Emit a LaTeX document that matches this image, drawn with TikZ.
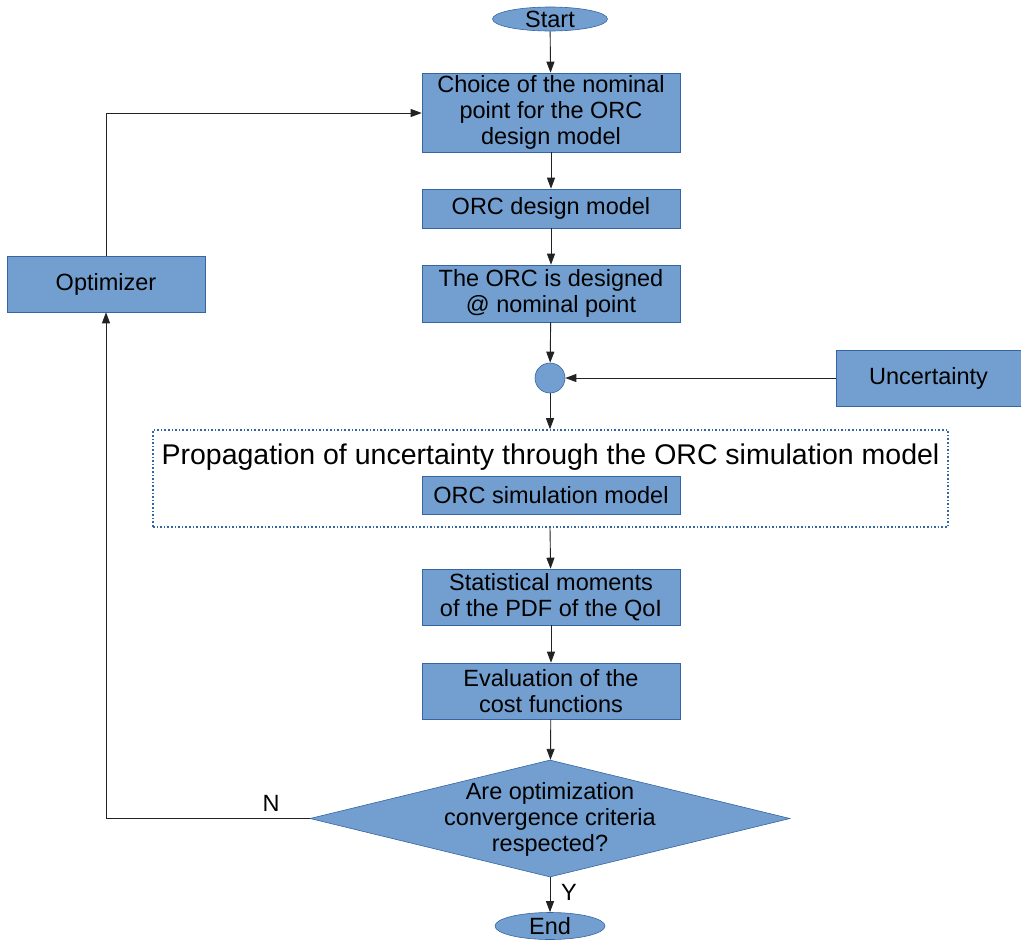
\documentclass[tikz,border=0pt]{standalone}
\usepackage{fontspec}
\setmainfont{Liberation Sans}
\usetikzlibrary{arrows.meta,shapes.geometric}
\definecolor{boxfill}{HTML}{729FCF}
\definecolor{boxline}{HTML}{3465A4}
\definecolor{linecol}{HTML}{222222}
\begin{document}
\begin{tikzpicture}[x=1pt,y=-1pt,
  base/.style={fill=boxfill,draw=boxline,line width=0.6pt,inner sep=0pt,align=center,
    font=\fontsize{23.5}{26}\selectfont},
  proc/.style={base,rectangle,minimum width=258pt},
  term/.style={base,ellipse},
  junc/.style={base,circle,minimum size=30pt},
  dec/.style={base,diamond,aspect=4.1,minimum width=480pt,minimum height=117pt},
  conn/.style={draw=linecol,line width=0.9pt,-{Triangle[length=11pt,width=8pt]}},
  lbl/.style={font=\fontsize{23.5}{26}\selectfont,inner sep=0pt,align=center},
  group/.style={draw=boxline,dotted,line width=1.6pt}]
\useasboundingbox (0,0) rectangle (1021,940);

\node[term,minimum width=115pt,minimum height=24pt] (start) at (550,19) {Start};
\node[proc,minimum height=79pt] (choice) at (551,112.5) {Choice of the nominal\\point for the ORC\\design model};
\node[proc,minimum height=39pt] (design) at (551,208.5) {ORC design model};
\node[proc,minimum height=57pt] (designed) at (551,293.5) {The ORC is designed\\@ nominal point};
\node[junc] (j) at (550,378) {};
\node[base,minimum width=185pt,minimum height=56pt] (unc) at (928.5,378) {Uncertainty};
\node[group,minimum width=795pt,minimum height=97pt,inner sep=0pt] (prop) at (550.5,478.5) {};
\node[lbl,font=\fontsize{28.5}{31}\selectfont] (proptitle) at (550.5,457) {Propagation of uncertainty through the ORC simulation model};
\node[proc,minimum height=38pt] (sim) at (551,495) {ORC simulation model};
\node[proc,minimum height=56pt] (stat) at (551,597) {Statistical moments\\of the PDF of the QoI};
\node[proc,minimum height=56pt] (eval) at (551,691) {Evaluation of the\\cost functions};
\node[dec] (conv) at (550,818.5) {};
\node[lbl] (convtext) at (550,819.5) {Are optimization\\convergence criteria\\respected?};
\node[term,minimum width=110pt,minimum height=27pt] (end) at (550,926) {End};
\node[base,minimum width=198pt,minimum height=56pt] (opt) at (106,284) {Optimizer};

\coordinate (nc) at (106,818.5);
\coordinate (tc) at (106,113);

\draw[conn] (start) -- (choice);
\draw[conn] (choice) -- (design);
\draw[conn] (design) -- (designed);
\draw[conn] (designed) -- (j);
\draw[conn] (unc.west) -- (j);
\draw[conn] (j) -- (prop.north -| j);
\draw[conn] (prop.south -| j) -- (stat);
\draw[conn] (stat) -- (eval);
\draw[conn] (eval) -- (conv);
\draw[conn] (conv) -- (end);
\draw[conn] (conv.west) -- (nc) -- (opt.south);
\draw[conn] (opt.north) -- (tc) -- (choice.west |- tc);

\node[lbl] (nlab) at (271,803) {N};
\node[lbl] (ylab) at (569,892) {Y};
\end{tikzpicture}
\end{document}
